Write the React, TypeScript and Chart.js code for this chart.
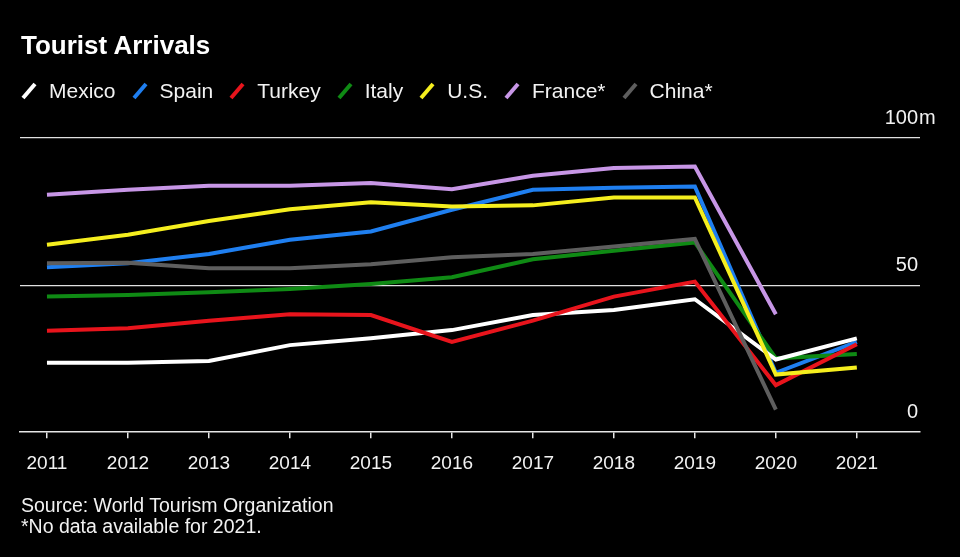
import React, { useEffect, useRef } from "react";
import { Chart, registerables } from "chart.js";

Chart.register(...registerables);

const years = [2011, 2012, 2013, 2014, 2015, 2016, 2017, 2018, 2019, 2020, 2021];
const mexico = [23.6, 23.6, 24.2, 29.6, 31.9, 34.7, 39.8, 41.5, 45.2, 24.7, 31.9];
const spain = [56.1, 57.4, 60.6, 65.4, 68.2, 75.6, 82.4, 83.1, 83.5, 20.2, 30.7];
const turkey = [34.5, 35.3, 37.9, 40.1, 39.8, 30.7, 37.9, 46.1, 51.2, 16.0, 29.9];
const italy = [46.1, 46.6, 47.6, 48.7, 50.4, 52.7, 58.8, 61.7, 64.5, 25.1, 26.6];
const us = [63.7, 67.1, 71.8, 75.8, 78.2, 76.7, 77.1, 79.8, 79.8, 19.6, 22.0];
const france = [80.7, 82.4, 83.8, 83.8, 84.7, 82.6, 87.2, 89.8, 90.3, 40.1, null];
const china = [57.4, 57.6, 55.7, 55.7, 57.1, 59.5, 60.6, 63.1, 65.7, 7.7, null];

const seriesNames = ["Mexico", "Spain", "Turkey", "Italy", "U.S.", "France*", "China*"];
const seriesValues = [mexico, spain, turkey, italy, us, france, china];
const seriesColors = ["#ffffff", "#1f7ff0", "#e8141c", "#0f8a14", "#f5ee1e", "#c796e6", "#5e5e5e"];
const seriesOrder = [5, 7, 4, 6, 1, 3, 2];

const yTicks = [0, 50, 100];
const yUnit = "m";

const FONT = "'Liberation Sans', Arial, sans-serif";

const yLabelPlugin = {
  id: "yLabels",
  afterDraw(chart: any) {
    const { ctx, chartArea, scales } = chart;
    const ys = scales.y;
    ctx.save();
    ctx.font = `20px ${FONT}`;
    ctx.fillStyle = "#f2f2f2";
    ctx.textBaseline = "middle";
    yTicks.forEach((v) => {
      const py = ys.getPixelForValue(v) - 20;
      ctx.textAlign = "right";
      ctx.fillText(String(v), chartArea.right - 2, py);
      if (v === 100) {
        ctx.textAlign = "left";
        ctx.fillText(yUnit, chartArea.right - 1, py);
      }
    });
    ctx.restore();
  },
};

function LegendIcon({ color }: { color: string }) {
  return (
    <svg width="16" height="18" style={{ display: "block", marginRight: 12 }}>
      <line x1="2" y1="16" x2="14" y2="2" stroke={color} strokeWidth="4" />
    </svg>
  );
}

export default function App() {
  const canvasRef = useRef<HTMLCanvasElement | null>(null);

  useEffect(() => {
    document.body.style.margin = "0";
    document.body.style.background = "#000";
    const canvas = canvasRef.current;
    if (!canvas) return;
    const datasets = seriesNames.map((name, i) => ({
      label: name,
      data: years
        .map((yr, j) => ({ x: yr, y: seriesValues[i][j] }))
        .filter((p) => p.y !== null),
      borderColor: seriesColors[i],
      backgroundColor: seriesColors[i],
      borderWidth: 4,
      pointRadius: 0,
      tension: 0,
      fill: false,
      borderJoinStyle: "miter" as const,
      order: seriesOrder[i],
    }));
    const chart = new Chart(canvas, {
      type: "line",
      data: { datasets },
      plugins: [yLabelPlugin],
      options: {
        animation: false,
        responsive: false,
        devicePixelRatio: 1,
        layout: { padding: { left: 20, right: 40, top: 138, bottom: 68 } },
        plugins: {
          legend: { display: false },
          tooltip: { enabled: false },
          title: { display: false },
        },
        scales: {
          x: {
            type: "linear",
            min: 2010.667,
            max: 2021.78,
            afterBuildTicks: (axis: any) => {
              axis.ticks = years.map((v) => ({ value: v }));
            },
            ticks: {
              color: "#f2f2f2",
              font: { family: FONT, size: 19 },
              padding: 14,
              maxRotation: 0,
              autoSkip: false,
              callback: (v: any) => String(v),
            },
            grid: {
              display: true,
              drawOnChartArea: false,
              drawTicks: true,
              tickLength: 6,
              color: "#e6e6e6",
              lineWidth: 1.5,
            },
            border: { display: true, color: "#e6e6e6", width: 1.5 },
          },
          y: {
            type: "linear",
            position: "right",
            min: 0,
            max: 100,
            afterBuildTicks: (axis: any) => {
              axis.ticks = yTicks.map((v) => ({ value: v }));
            },
            ticks: { display: false },
            grid: {
              display: true,
              drawTicks: false,
              tickLength: 0,
              color: (c: any) => (c.tick && c.tick.value === 0 ? "rgba(0,0,0,0)" : "#e0e0e0"),
              lineWidth: 1.2,
            },
            border: { display: false },
          },
        },
      },
    });
    return () => chart.destroy();
  }, []);

  return (
    <div
      style={{
        position: "relative",
        width: 960,
        height: 557,
        background: "#000",
        overflow: "hidden",
        fontFamily: FONT,
        color: "#f2f2f2",
      }}
    >
      <canvas
        ref={canvasRef}
        width={960}
        height={557}
        style={{ position: "absolute", left: 0, top: 0, width: 960, height: 557 }}
      />
      <div
        style={{
          position: "absolute",
          left: 21,
          top: 32,
          fontSize: 26,
          lineHeight: "26px",
          fontWeight: 700,
          color: "#ffffff",
          whiteSpace: "nowrap",
        }}
      >
        Tourist Arrivals
      </div>
      <div
        style={{
          position: "absolute",
          left: 21,
          top: 80,
          display: "flex",
          alignItems: "center",
          fontSize: 21,
          lineHeight: "21px",
          whiteSpace: "nowrap",
        }}
      >
        {seriesNames.map((name, i) => (
          <div key={name} style={{ display: "flex", alignItems: "center", marginRight: 16 }}>
            <LegendIcon color={seriesColors[i]} />
            <span>{name}</span>
          </div>
        ))}
      </div>
      <div
        style={{
          position: "absolute",
          left: 21,
          top: 495,
          fontSize: 19.5,
          lineHeight: "21px",
          whiteSpace: "nowrap",
        }}
      >
        <div>Source: World Tourism Organization</div>
        <div>*No data available for 2021.</div>
      </div>
    </div>
  );
}
